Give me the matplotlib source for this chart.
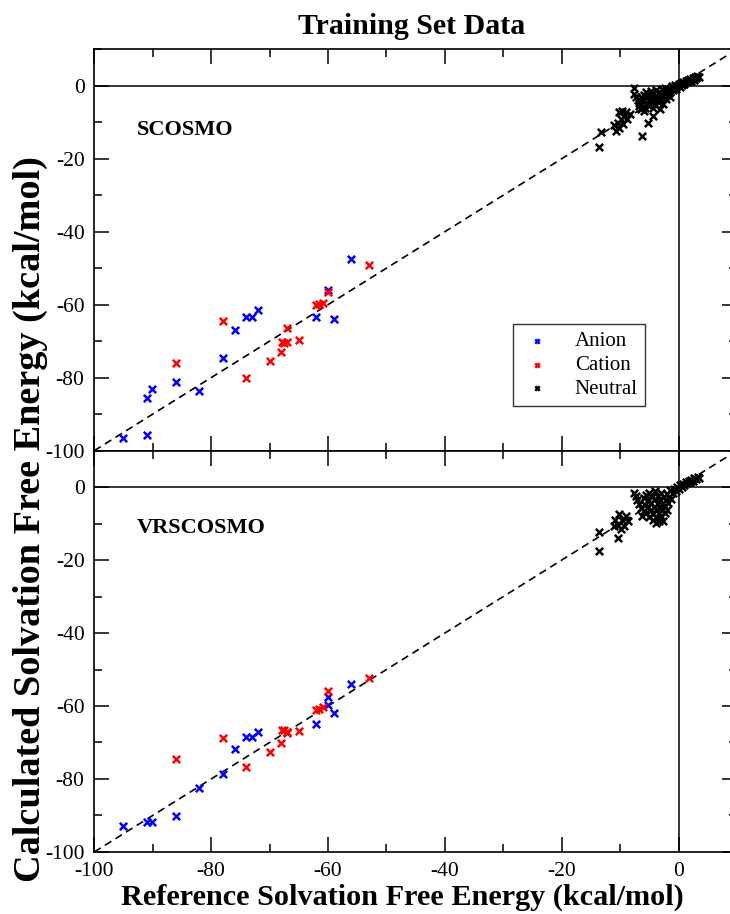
import numpy as np
import matplotlib
matplotlib.use("Agg")
import matplotlib.pyplot as plt
from matplotlib.ticker import MultipleLocator

plt.rcParams['font.family'] = ['Liberation Serif', 'DejaVu Serif']
plt.rcParams['axes.unicode_minus'] = False

# ---- data (reference x, calculated y) ----
anion_ref = [-56.0, -60.0, -62.0, -59.0, -72.0, -73.0, -74.1, -76.0, -78.0,
             -86.0, -90.1, -91.0, -82.0, -95.1, -91.0]
anion_scosmo = [-47.4, -56.1, -63.5, -64.0, -61.6, -63.5, -63.3, -67.0, -74.7,
                -81.2, -83.1, -85.5, -83.7, -96.5, -95.8]
anion_ref_vr = [-56.0, -60.0, -62.0, -59.0, -72.0, -73.0, -74.1, -76.0, -78.0,
                -86.0, -90.1, -91.0, -82.0, -95.1, -60.0]
anion_vrscosmo = [-53.9, -59.7, -64.8, -61.8, -67.0, -68.4, -68.5, -71.8, -78.6,
                  -90.1, -91.9, -91.7, -82.4, -92.9, -57.5]

cation_ref = [-53.0, -60.0, -62.0, -61.5, -60.9, -67.0, -67.9, -67.6, -67.0,
              -68.0, -65.0, -70.0, -74.0, -78.0, -86.0]
cation_scosmo = [-49.1, -56.6, -60.0, -59.8, -59.5, -66.4, -70.3, -70.6, -70.2,
                 -73.0, -69.7, -75.5, -80.0, -64.5, -76.0]
cation_vrscosmo = [-52.4, -56.0, -61.1, -60.7, -60.3, -67.4, -66.7, -66.7, -67.0,
                   -70.1, -66.9, -72.7, -76.7, -68.7, -74.6]

neutral_ref_top = [-13.6, -13.3, -6.2, -10.7, -10.2, -10.4, -9.9, -9.6, -9.0, -9.3,
                   -8.4, -10.2, -11.0, -9.5, -8.8, -7.6, -7.6, -7.3, -7.0, -6.7,
                   -6.4, -5.9, -5.3, -4.4,
                   -6.8, -6.5, -6.2, -6.0, -6.0, -5.8, -5.6, -5.5, -5.4, -5.2,
                   -5.0, -5.0, -4.8, -4.7, -4.5, -4.4, -4.3, -4.1, -4.0, -3.9,
                   -3.8, -3.6, -3.5, -3.4, -3.2, -3.2, -3.0, -2.9, -2.8, -2.6,
                   -2.5, -2.3, -2.2, -2.0, -1.8, -1.6, -1.4, -1.2, -1.0, -0.8,
                   -0.6, -0.4, -0.2, 0.0, 0.2, 0.4, 0.6, 0.8, 1.0, 1.2, 1.4, 1.6,
                   1.8, 2.0, 2.2, 2.4, 2.6, 2.8, 3.0, 3.2, 3.5, -1.5]
neutral_scosmo = [-16.8, -12.8, -13.8, -12.4, -11.5, -10.1, -9.2, -6.9, -7.3, -8.3,
                  -7.8, -7.3, -10.8, -10.5, -9.0, -0.5, -2.3, -3.2, -4.0, -4.6,
                  -6.4, -6.9, -10.1, -8.3,
                  -5.5, -3.0, -5.0, -2.5, -4.0, -6.0, -3.2, -1.8, -4.8, -2.6,
                  -5.6, -3.8, -1.5, -4.4, -3.0, -6.0, -2.0, -3.8, -5.2, -1.2,
                  -2.8, -4.5, -3.5, -1.8, -6.5, -2.5, -4.0, -1.0, -3.0, -5.0,
                  -2.0, -0.5, -3.5, -1.5, -2.5, -0.8, -1.8, -0.2, -1.2, -0.6,
                  0.2, -0.8, 0.0, 0.5, -0.3, 0.8, 0.3, 1.1, 0.6, 1.4, 0.9, 1.7,
                  1.2, 1.9, 1.4, 2.2, 1.7, 2.4, 2.0, 2.6, 2.5, -3.0]

neutral_ref_bot = [-13.6, -13.6, -10.3, -10.2, -9.6, -10.4, -9.3, -11.0, -9.9, -8.7,
                   -10.8, -9.0, -7.6, -7.3, -7.2, -6.2, -6.4, -6.8,
                   -6.0, -6.0, -5.8, -5.6, -5.5, -5.3, -5.2, -5.0, -5.0, -4.8,
                   -4.7, -4.5, -4.4, -4.3, -4.2, -4.0, -4.0, -3.8, -3.8, -3.7,
                   -3.6, -3.5, -3.4, -3.3, -3.2, -3.1, -3.0, -3.0, -2.8, -2.7,
                   -2.6, -2.5, -2.4, -2.3, -2.2, -2.0, -2.0, -1.8, -1.6, -1.4,
                   -1.3, -1.0, -0.8, -0.5, -0.3, 0.0, 0.2, 0.5, 0.7, 1.0, 1.2,
                   1.5, 1.7, 2.0, 2.2, 2.5, 2.7, 3.0, 3.3, 3.5]
neutral_vrscosmo = [-17.5, -12.4, -14.0, -7.5, -8.9, -10.3, -10.7, -10.7, -11.6, -9.4,
                    -9.0, -8.0, -1.6, -2.5, -3.5, -8.0, -5.7, -4.5,
                    -3.0, -6.5, -4.8, -2.2, -7.2, -5.5, -3.6, -1.6, -8.2, -6.4,
                    -4.4, -2.6, -9.0, -7.4, -5.4, -3.4, -1.2, -9.8, -6.2, -8.4,
                    -4.6, -2.4, -7.0, -9.2, -5.6, -3.6, -1.6, -8.0, -6.4, -4.4,
                    -9.4, -2.8, -7.2, -5.2, -3.6, -1.8, -6.2, -4.4, -2.6, -0.8,
                    -3.2, -1.6, -0.4, -1.0, 0.0, -0.4, 0.5, 0.1, 0.9, 0.5, 1.3,
                    1.0, 1.7, 1.4, 2.0, 1.8, 2.4, 2.2, 2.7, 2.5]

panels = ["SCOSMO", "VRSCOSMO"]

fig = plt.figure(figsize=(7.3, 9.14), dpi=100)
ax_top = fig.add_axes([0.1292, 0.5070, 0.8804, 0.4391])
ax_bot = fig.add_axes([0.1292, 0.0679, 0.8804, 0.4391])

sets = [
    (ax_top, anion_ref, anion_scosmo, cation_ref, cation_scosmo, neutral_ref_top, neutral_scosmo),
    (ax_bot, anion_ref_vr, anion_vrscosmo, cation_ref, cation_vrscosmo, neutral_ref_bot, neutral_vrscosmo),
]

mk = dict(marker='x', s=28, linewidths=1.8)
for i, (ax, ax_x, ax_y, cx, cy, nx, ny) in enumerate(sets):
    ax.set_xlim(-100, 10)
    ax.set_ylim(-100, 10)
    ax.axhline(0, color='black', lw=1.1, zorder=1)
    ax.axvline(0, color='black', lw=1.1, zorder=1)
    ax.plot([-100, 10], [-100, 10], color='black', lw=1.2, dashes=(4.5, 3), zorder=1)
    ax.scatter(ax_x, ax_y, color='#0000ff', label='Anion', zorder=3, **mk)
    ax.scatter(cx, cy, color='#ff0000', label='Cation', zorder=3, **mk)
    ax.scatter(nx, ny, color='black', label='Neutral', zorder=2, **mk)

    ax.xaxis.set_major_locator(MultipleLocator(20))
    ax.xaxis.set_minor_locator(MultipleLocator(10))
    ax.yaxis.set_major_locator(MultipleLocator(20))
    ax.yaxis.set_minor_locator(MultipleLocator(10))
    ax.tick_params(which='both', direction='in', top=True, right=True,
                   width=1.1, labelsize=15.5)
    ax.tick_params(which='major', length=11, pad=7)
    ax.tick_params(which='minor', length=5.5)
    ax.set_yticks([-100, -80, -60, -40, -20, 0])
    for sp in ax.spines.values():
        sp.set_linewidth(1.2)
    ax.text(0.066, 0.80 if i == 0 else 0.808, panels[i], transform=ax.transAxes,
            fontsize=16, fontweight='bold', va='center')

ax_top.tick_params(labelbottom=False)

leg = ax_top.legend(loc='lower left', bbox_to_anchor=(0.652, 0.111), borderaxespad=0,
                    fontsize=15, frameon=True, fancybox=False, markerscale=0.6,
                    handletextpad=1.0, labelspacing=0.2, borderpad=0.35,
                    handlelength=1.6)
leg.get_frame().set_edgecolor('black')
leg.get_frame().set_linewidth(1.0)

fig.text(0.564, 0.971, "Training Set Data", ha='center', va='center',
         fontsize=21.5, fontweight='bold')
fig.text(0.551, 0.018, "Reference Solvation Free Energy (kcal/mol)", ha='center',
         va='center', fontsize=21.8, fontweight='bold')
fig.text(0.042, 0.432, "Calculated Solvation Free Energy (kcal/mol)", ha='center',
         va='center', rotation=90, fontsize=27.5, fontweight='bold')

fig.savefig("out.png", dpi=100)
